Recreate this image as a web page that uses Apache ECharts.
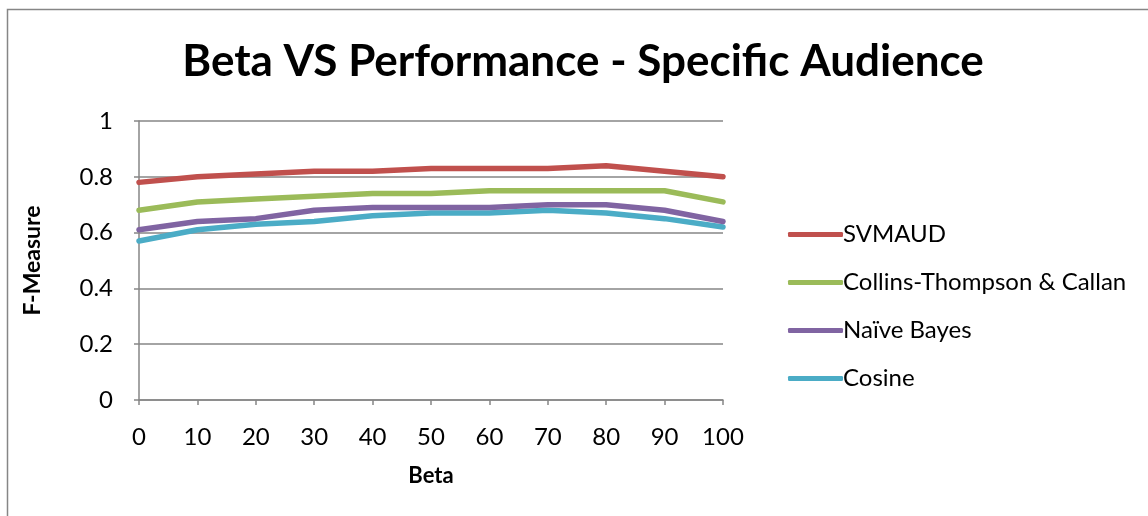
<!DOCTYPE html>
<html>
<head>
<meta charset="utf-8">
<script src="https://cdn.jsdelivr.net/npm/echarts@6/dist/echarts.min.js"></script>
<style>
  html, body { margin: 0; padding: 0; background: #fff; }
  #chart { width: 1148px; height: 516px; }
</style>
</head>
<body>
<div id="chart"></div>
<script>
// Beta values on the horizontal axis
const betaValues = ['0', '10', '20', '30', '40', '50', '60', '70', '80', '90', '100'];

// F-Measure per method
const svmaud = [0.78, 0.80, 0.81, 0.82, 0.82, 0.83, 0.83, 0.83, 0.84, 0.82, 0.80];
const collinsThompson = [0.68, 0.71, 0.72, 0.73, 0.74, 0.74, 0.75, 0.75, 0.75, 0.75, 0.71];
const naiveBayes = [0.61, 0.64, 0.65, 0.68, 0.69, 0.69, 0.69, 0.70, 0.70, 0.68, 0.64];
const cosine = [0.57, 0.61, 0.63, 0.64, 0.66, 0.67, 0.67, 0.68, 0.67, 0.65, 0.62];

const seriesNames = ['SVMAUD', 'Collins-Thompson & Callan', 'Naïve Bayes', 'Cosine'];
const seriesColors = ['#C0504D', '#9BBB59', '#8064A2', '#4BACC6'];
const seriesData = [svmaud, collinsThompson, naiveBayes, cosine];

const FONT = 'Lato, "Open Sans", sans-serif';
const AXIS_GREY = '#868686';

const chart = echarts.init(document.getElementById('chart'), null, { renderer: 'canvas' });

chart.setOption({
  backgroundColor: '#ffffff',
  animation: false,
  textStyle: { fontFamily: FONT },
  graphic: [{
    type: 'rect',
    shape: { x: 7.5, y: 9.5, width: 1300, height: 700 },
    style: { fill: 'none', stroke: AXIS_GREY, lineWidth: 1.5 },
    silent: true,
    z: -1
  }],
  title: {
    text: 'Beta VS Performance - Specific Audience',
    left: 578,
    textAlign: 'center',
    top: 35,
    textStyle: { fontFamily: FONT, fontWeight: 'bold', fontSize: 44, color: '#000' }
  },
  legend: {
    orient: 'vertical',
    left: 783,
    top: 217,
    icon: 'roundRect',
    itemWidth: 55,
    itemHeight: 5,
    itemGap: 23,
    data: seriesNames,
    textStyle: { fontFamily: FONT, fontSize: 24, color: '#000', padding: [0, 0, 0, -5], lineHeight: 25 }
  },
  grid: { left: 139, right: 425, top: 121, bottom: 116, containLabel: false },
  xAxis: {
    type: 'category',
    data: betaValues,
    boundaryGap: false,
    name: 'Beta',
    nameLocation: 'middle',
    nameGap: 65,
    nameTextStyle: { fontFamily: FONT, fontWeight: 'bold', fontSize: 22, color: '#000' },
    axisLine: { lineStyle: { color: AXIS_GREY, width: 1.5 } },
    axisTick: { show: true, length: 5, alignWithLabel: true, lineStyle: { color: AXIS_GREY, width: 1.5 } },
    axisLabel: { fontFamily: FONT, fontSize: 24, color: '#000', margin: 25 },
    splitLine: { show: false }
  },
  yAxis: {
    type: 'value',
    min: 0,
    max: 1,
    interval: 0.2,
    name: 'F-Measure',
    nameLocation: 'middle',
    nameGap: 95,
    nameRotate: 90,
    nameTextStyle: { fontFamily: FONT, fontWeight: 'bold', fontSize: 23, color: '#000' },
    axisLine: { show: true, lineStyle: { color: AXIS_GREY, width: 1.5 } },
    axisTick: { show: true, length: 5, lineStyle: { color: AXIS_GREY, width: 1.5 } },
    axisLabel: { fontFamily: FONT, fontSize: 24, color: '#000', margin: 26,
                 formatter: v => String(Math.round(v * 10) / 10) },
    splitLine: { show: true, lineStyle: { color: AXIS_GREY, width: 1.5 } }
  },
  series: seriesNames.map((name, i) => ({
    name,
    type: 'line',
    data: seriesData[i],
    symbol: 'none',
    smooth: false,
    color: seriesColors[i],
    lineStyle: { width: 5.5, color: seriesColors[i], cap: 'round', join: 'round' },
    z: 10 - i
  }))
});
</script>
</body>
</html>
